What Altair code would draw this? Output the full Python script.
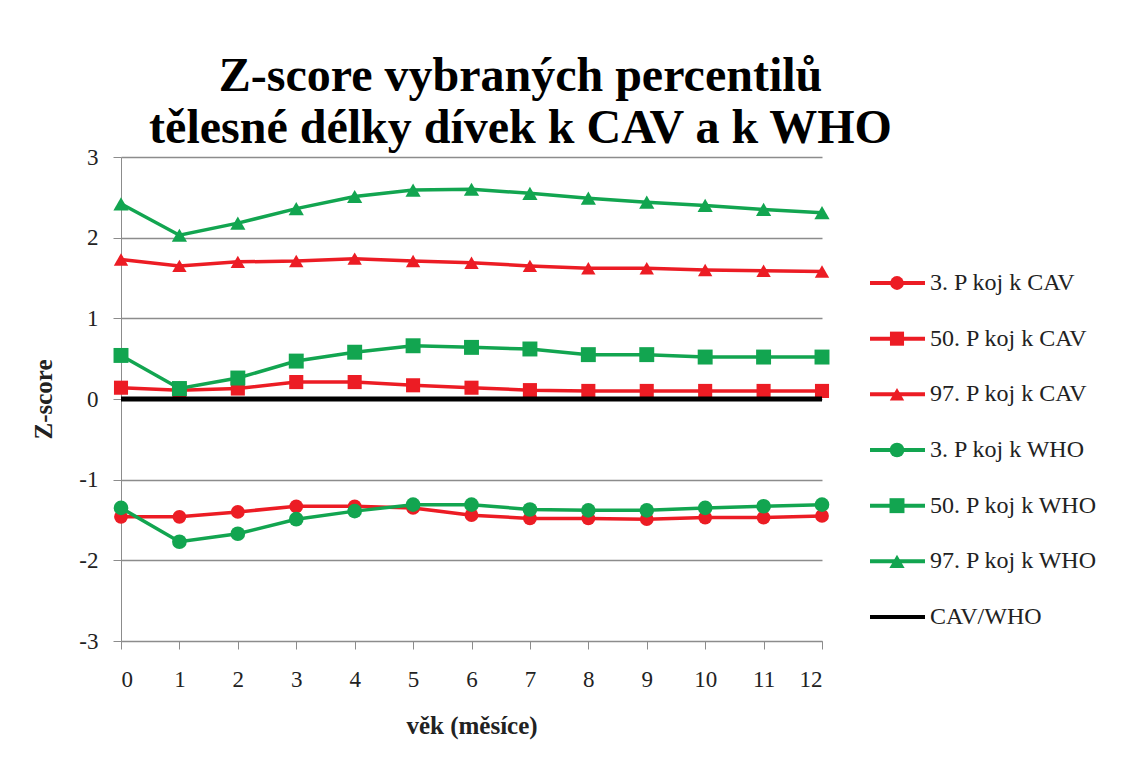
import altair as alt
import pandas as pd

months = list(range(13))
series_names = ["3. P koj k CAV", "50. P koj k CAV", "97. P koj k CAV",
                "3. P koj k WHO", "50. P koj k WHO", "97. P koj k WHO", "CAV/WHO"]
p3_cav = [-1.46, -1.46, -1.40, -1.33, -1.33, -1.35, -1.44, -1.48, -1.48, -1.49, -1.47, -1.47, -1.45]
p50_cav = [0.14, 0.11, 0.13, 0.21, 0.21, 0.17, 0.14, 0.11, 0.10, 0.10, 0.10, 0.10, 0.10]
p97_cav = [1.73, 1.65, 1.70, 1.71, 1.74, 1.71, 1.69, 1.65, 1.62, 1.62, 1.60, 1.59, 1.58]
p3_who = [-1.35, -1.77, -1.67, -1.49, -1.39, -1.31, -1.31, -1.37, -1.38, -1.38, -1.35, -1.33, -1.31]
p50_who = [0.54, 0.13, 0.26, 0.47, 0.58, 0.66, 0.64, 0.62, 0.55, 0.55, 0.52, 0.52, 0.52]
p97_who = [2.42, 2.03, 2.18, 2.36, 2.51, 2.59, 2.60, 2.55, 2.49, 2.44, 2.40, 2.35, 2.31]
ref_line = [0] * 13

values = [p3_cav, p50_cav, p97_cav, p3_who, p50_who, p97_who, ref_line]
colors = ["#EC1C24", "#EC1C24", "#EC1C24", "#12A550", "#12A550", "#12A550", "#000000"]
shapes = ["circle", "square", "triangle-up", "circle", "square", "triangle-up", "circle"]
marker_sizes = [190, 240, 250, 190, 240, 250, 0]
widths = [3.5, 3.5, 3.5, 3.5, 3.5, 3.5, 5]

rows = []
for name, vals in zip(series_names, values):
    for m, v in zip(months, vals):
        rows.append({"month": m, "z": v, "series": name})
df = pd.DataFrame(rows)

legend_df = pd.DataFrame({"series": series_names})

W, H = 701, 484
SERIF = "Liberation Serif"
color_scale = alt.Scale(domain=series_names, range=colors)
shape_scale = alt.Scale(domain=series_names, range=shapes)
size_scale = alt.Scale(domain=series_names, range=marker_sizes)

x_enc = alt.X("month:Q", scale=alt.Scale(domain=[0, 12], nice=False),
              axis=alt.Axis(values=months, title="věk (měsíce)", grid=False,
                            tickSize=8, labelPadding=19, titlePadding=22,
                            domainColor="#8c8c8c", tickColor="#8c8c8c",
                            labelFontSize=23, titleFontSize=25, titleFontWeight="bold"))
y_enc = alt.Y("z:Q", scale=alt.Scale(domain=[-3, 3], nice=False),
              axis=alt.Axis(values=[-3, -2, -1, 0, 1, 2, 3], title="Z-score",
                            labelExpr="toString(datum.value)",
                            tickSize=8, labelPadding=15, titlePadding=22,
                            domainColor="#8c8c8c", tickColor="#8c8c8c",
                            gridColor="#8c8c8c", gridWidth=1.5,
                            labelFontSize=23, titleFontSize=25, titleFontWeight="bold"))

layers = []
for i, name in enumerate(series_names):
    sub = df[df["series"] == name]
    base = alt.Chart(sub)
    layers.append(base.mark_line(strokeWidth=widths[i]).encode(
        x=x_enc, y=y_enc,
        color=alt.Color("series:N", scale=color_scale, legend=None)))
    if name != "CAV/WHO":
        layers.append(base.mark_point(filled=True, opacity=1).encode(
            x=x_enc, y=y_enc,
            color=alt.Color("series:N", scale=color_scale, legend=None),
            shape=alt.Shape("series:N", scale=shape_scale, legend=None),
            size=alt.Size("series:N", scale=size_scale, legend=None)))
main = alt.layer(*layers)

leg_y = alt.Y("series:N", axis=None,
              scale=alt.Scale(type="point", domain=series_names, range=[126, 460], padding=0))
leg_base = alt.Chart(legend_df)
leg_rule = leg_base.mark_rule(strokeWidth=4).encode(
    x=alt.value(749), x2=alt.value(804), y=leg_y,
    color=alt.Color("series:N", scale=color_scale, legend=None))
leg_pts = leg_base.transform_filter(alt.datum.series != "CAV/WHO").mark_point(
    filled=True, opacity=1).encode(
    x=alt.value(776), y=leg_y,
    color=alt.Color("series:N", scale=color_scale, legend=None),
    shape=alt.Shape("series:N", scale=shape_scale, legend=None),
    size=alt.Size("series:N", scale=size_scale, legend=None))
leg_txt = leg_base.mark_text(align="left", baseline="middle", fontSize=24,
                             font=SERIF, color="#222222").encode(
    x=alt.value(809), y=leg_y, text="series:N")
legend = alt.layer(leg_rule, leg_pts, leg_txt)

chart = alt.layer(main, legend).resolve_scale(
    y="independent", size="independent"
).properties(
    width=W, height=H,
    background="white",
    title=alt.TitleParams(
        text=["Z-score vybraných percentilů", "tělesné délky dívek k CAV a k WHO"],
        font=SERIF, fontSize=48, fontWeight="bold", color="#000000",
        anchor="middle", dx=49, offset=-7, lineHeight=52),
    autosize=alt.AutoSizeParams(type="none"),
    padding={"left": 113, "top": 149, "right": 300, "bottom": 114},
).configure_view(stroke=None).configure_axis(
    labelFont=SERIF, titleFont=SERIF, labelColor="#222222", titleColor="#222222"
)

chart.save("out.html", embed_options={"renderer": "svg", "actions": False})
